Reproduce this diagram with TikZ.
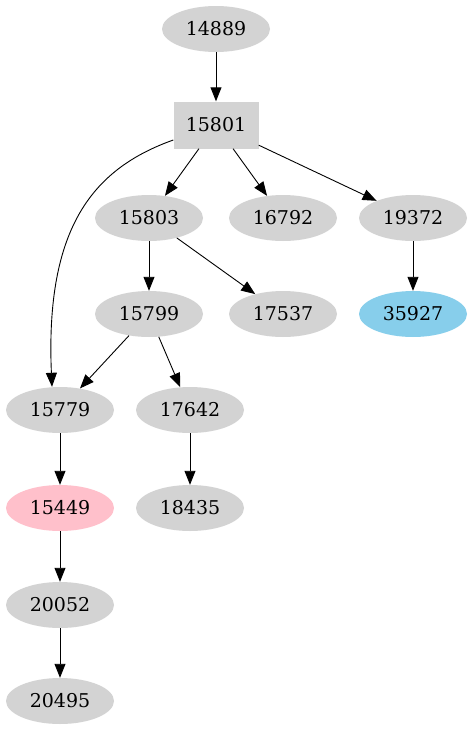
\documentclass[tikz,border=0pt]{standalone}
\usepackage{fontspec}
\setmainfont{DejaVu Serif}
\usetikzlibrary{arrows.meta,shapes.geometric}
\definecolor{nodegray}{HTML}{D3D3D3}
\definecolor{nodepink}{HTML}{FFC0CB}
\definecolor{nodesky}{HTML}{87CEEB}

\begin{document}
\begin{tikzpicture}
  [x=1pt,y=-1pt,every node/.style={ellipse,fill=nodegray,minimum width=108pt,minimum height=46pt,inner sep=0pt,font=\fontsize{19}{21}\selectfont},
   edge/.style={-{Triangle[length=14pt,width=11pt]},line width=0.9pt}]
  \useasboundingbox (0,0) rectangle (473,731);
  \node (n14889) at (216,29) {14889};
  \node[rectangle,minimum width=85pt,minimum height=47pt] (n15801) at (216,125) {15801};
  \node (n15803) at (149,218) {15803};
  \node (n16792) at (283,218) {16792};
  \node (n19372) at (413,218) {19372};
  \node (n15799) at (149,314) {15799};
  \node (n17537) at (283,314) {17537};
  \node[fill=nodesky] (n35927) at (413,314) {35927};
  \node (n15779) at (60,410) {15779};
  \node (n17642) at (190,410) {17642};
  \node[fill=nodepink] (n15449) at (60,508) {15449};
  \node (n18435) at (190,508) {18435};
  \node (n20052) at (60,605) {20052};
  \node (n20495) at (60,701) {20495};

  \foreach \from/\to in {n14889/n15801,n15801/n15803,n15801/n16792,n15801/n19372,n19372/n35927,
    n15803/n15799,n15803/n17537,n15799/n15779,n15799/n17642,n17642/n18435,
    n15779/n15449,n15449/n20052,n20052/n20495}
    \draw[edge] (\from) -- (\to);

  \draw[edge] (n15801.west |- 0,140) .. controls (95,168) and (45,225) .. ([xshift=-8pt]n15779.north);

\end{tikzpicture}
\end{document}
